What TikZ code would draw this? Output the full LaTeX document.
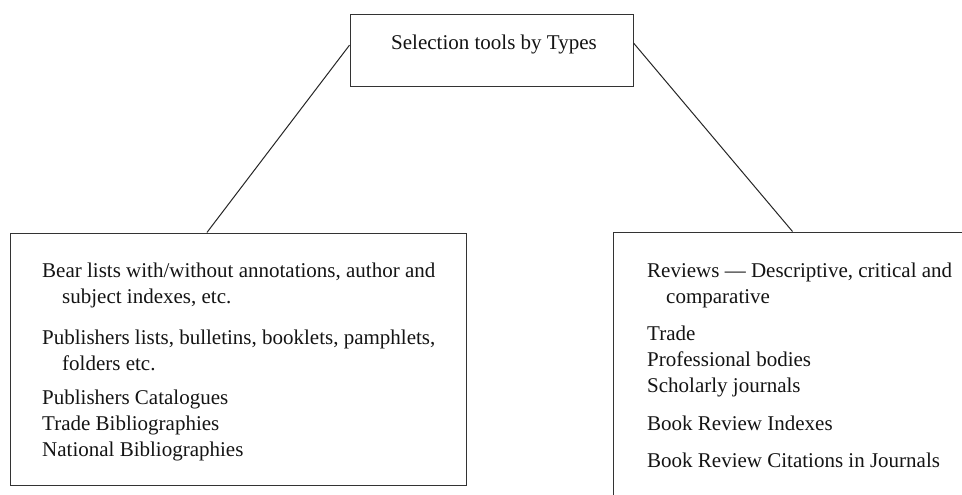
\documentclass[tikz,border=0pt]{standalone}
\usepackage{fontspec}
\setmainfont{Liberation Serif}
\usetikzlibrary{calc}
\begin{document}
\begin{tikzpicture}[x=1pt,y=-1pt,
  box/.style={draw=black!80,line width=1pt,rectangle,inner sep=0pt},
  link/.style={draw=black!85,line width=1pt},
  txt/.style={inner sep=0pt,align=left,text=black!92,font=\fontsize{21}{26}\selectfont}]
\useasboundingbox (0,0) rectangle (962,495);
\clip (0,0) rectangle (962,495);
\fill[white] (0,0) rectangle (962,495);
% top box
\node[box,minimum width=283pt,minimum height=72pt] (top) at (491.5,51) {};
\node[txt,anchor=center] (toptext) at (494,44) {Selection tools by Types};
% left box
\node[box,minimum width=456pt,minimum height=252pt] (lbox) at (238,359) {};
\node[txt,anchor=north west] (ltext) at (42,263) {Bear lists with/without annotations, author and\\
\hspace*{20pt}subject indexes, etc.\\[15pt]
Publishers lists, bulletins, booklets, pamphlets,\\
\hspace*{20pt}folders etc.\\[8pt]
Publishers Catalogues\\
Trade Bibliographies\\
National Bibliographies};
% right box (runs off the page)
\node[box,minimum width=400pt,minimum height=300pt] (rbox) at (813,382) {};
\node[txt,anchor=north west] (rtext) at (647,263) {Reviews --- Descriptive, critical and\\
\hspace*{19pt}comparative\\[11pt]
Trade\\
Professional bodies\\
Scholarly journals\\[12pt]
Book Review Indexes\\[11pt]
Book Review Citations in Journals};
% connectors
\coordinate (tl) at ($(top.north west)!0.42!(top.south west)$);
\coordinate (tr) at ($(top.north east)!0.39!(top.south east)$);
\coordinate (lt) at ($(lbox.north west)!0.432!(lbox.north east)$);
\coordinate (rt) at ($(rbox.north west)+(180,0)$);
\draw[link] (tl) -- (lt);
\draw[link] (tr) -- (rt);
\end{tikzpicture}
\end{document}
